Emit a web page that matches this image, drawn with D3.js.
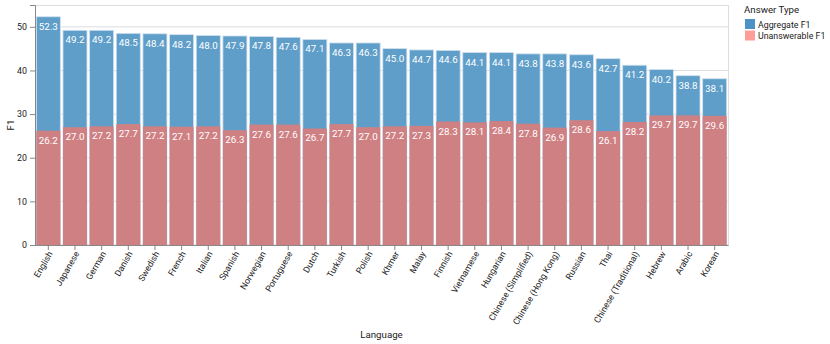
<!DOCTYPE html>
<html><head><meta charset="utf-8">
<script src="https://cdn.jsdelivr.net/npm/d3@7"></script>
<style>body{margin:0;background:#fff}svg{font-family:Roboto, "Liberation Sans", sans-serif}</style>
</head><body><svg id="c" width="830" height="344"></svg>
<script>
const languages = ["English","Japanese","German","Danish","Swedish","French","Italian","Spanish","Norwegian","Portuguese","Dutch","Turkish","Polish","Khmer","Malay","Finnish","Vietnamese","Hungarian","Chinese (Simplified)","Chinese (Hong Kong)","Russian","Thai","Chinese (Traditional)","Hebrew","Arabic","Korean"];
const aggregateF1 = [52.3,49.2,49.2,48.5,48.4,48.2,48.0,47.9,47.8,47.6,47.1,46.3,46.3,45.0,44.7,44.6,44.1,44.1,43.8,43.8,43.6,42.7,41.2,40.2,38.8,38.1];
const unanswerableF1 = [26.2,27.0,27.2,27.7,27.2,27.1,27.2,26.3,27.6,27.6,26.7,27.7,27.0,27.2,27.3,28.3,28.1,28.4,27.8,26.9,28.6,26.1,28.2,29.7,29.7,29.6];
const seriesNames = ["Aggregate F1","Unanswerable F1"];
const yTicks = [0,10,20,30,40,50];

const svg = d3.select("#c");
const m = {l:35, t:5, r:102, b:99};
const W = 830 - m.l - m.r, H = 344 - m.t - m.b;
const g = svg.append("g").attr("transform",`translate(${m.l},${m.t})`);
const x = d3.scaleBand().domain(languages).range([0,W]).paddingInner(0.1).paddingOuter(0.05);
const y = d3.scaleLinear().domain([0,55]).range([H,0]);
const fsLabel = 8.8, fsTitle = 9.7, fsBar = 9.8, txtCol = "#222";

// grid
g.append("g").selectAll("line").data(yTicks).join("line")
  .attr("x1",0).attr("x2",W).attr("y1",d=>y(d)).attr("y2",d=>y(d))
  .attr("stroke","#ddd").attr("stroke-width",1);
g.append("rect").attr("x",0.5).attr("y",0.5).attr("width",W).attr("height",H)
  .attr("fill","none").attr("stroke","#ddd");

const rows = languages.map((l,i)=>({l, a:aggregateF1[i], u:unanswerableF1[i]}));
const blue = "#5e9ec9", pink = "#cf8083";
g.append("g").selectAll("rect").data(rows).join("rect")
  .attr("x",d=>x(d.l)).attr("width",x.bandwidth())
  .attr("y",d=>y(d.a)).attr("height",d=>y(0)-y(d.a))
  .attr("fill",blue).attr("stroke","#cfe0ee").attr("stroke-width",0.8);
g.append("g").selectAll("rect").data(rows).join("rect")
  .attr("x",d=>x(d.l)).attr("width",x.bandwidth())
  .attr("y",d=>y(d.u)).attr("height",d=>y(0)-y(d.u))
  .attr("fill",pink);

g.append("g").selectAll("text").data(rows).join("text")
  .attr("x",d=>x(d.l)+x.bandwidth()/2).attr("y",d=>y(d.a)+13)
  .attr("text-anchor","middle").attr("fill","#fff").attr("font-size",fsBar)
  .text(d=>d.a.toFixed(1));
g.append("g").selectAll("text").data(rows).join("text")
  .attr("x",d=>x(d.l)+x.bandwidth()/2).attr("y",d=>y(d.u)+13)
  .attr("text-anchor","middle").attr("fill","#fff").attr("font-size",fsBar)
  .text(d=>d.u.toFixed(1));

// y axis
const ya = g.append("g").call(d3.axisLeft(y).tickValues(yTicks).tickSize(5).tickPadding(3));
ya.select(".domain").attr("stroke","#888");
ya.selectAll(".tick line").attr("stroke","#888");
ya.selectAll("text").attr("font-size",fsLabel).attr("fill",txtCol).attr("font-family","Roboto, sans-serif");

// x axis
const xa = g.append("g").attr("transform",`translate(0,${H})`).call(d3.axisBottom(x).tickSize(5).tickSizeOuter(0));
xa.select(".domain").attr("stroke","#888");
xa.selectAll(".tick line").attr("stroke","#888");
xa.selectAll("text").attr("font-size",fsLabel).attr("fill",txtCol).attr("font-family","Roboto, sans-serif")
  .attr("text-anchor","end").attr("transform","translate(2,7) rotate(-60)").attr("dy","0.35em").attr("y",0);

// titles
svg.append("text").attr("x",m.l+W/2).attr("y",338).attr("text-anchor","middle")
  .attr("font-size",fsTitle).attr("fill",txtCol).text("Language");
svg.append("text").attr("transform",`translate(14,${m.t+H/2}) rotate(-90)`).attr("text-anchor","middle")
  .attr("font-size",fsTitle).attr("fill",txtCol).text("F1");

// legend
const lg = svg.append("g").attr("transform","translate(745,0)");
lg.append("text").attr("x",-1).attr("y",13).attr("font-size",fsTitle).attr("fill",txtCol).text("Answer Type");
const lcol = ["#4d92c6","#ff9e99"];
seriesNames.forEach((s,i)=>{
  lg.append("rect").attr("x",0).attr("y",19+i*11.5).attr("width",10).attr("height",10).attr("fill",lcol[i]);
  lg.append("text").attr("x",13).attr("y",27.5+i*11.5).attr("font-size",fsLabel).attr("fill",txtCol).text(s);
});
</script></body></html>
